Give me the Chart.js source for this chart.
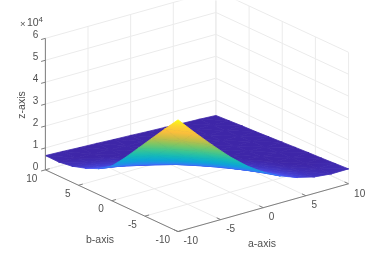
<!DOCTYPE html>
<html>
<head>
<meta charset="utf-8">
<style>
  html, body { margin: 0; padding: 0; background: #fff; }
  canvas { display: block; }
</style>
<script src="https://cdn.jsdelivr.net/npm/chart.js@4"></script>
</head>
<body>
<canvas id="surf" width="374" height="255"></canvas>
<script>
// surface samples, z in units of 10^4, one row per b (b = -10 first), columns a = -10..10
const aGrid = [-10, -8, -6, -4, -2, 0, 2, 4, 6, 8, 10];
const bGrid = [-10, -8, -6, -4, -2, 0, 2, 4, 6, 8, 10];
const zRows = [
  [5.10, 4.29, 3.52, 2.78, 2.14, 1.62, 1.23, 0.94, 0.75, 0.67, 0.68],
  [4.40, 3.62, 2.95, 2.35, 1.84, 1.41, 1.08, 0.85, 0.70, 0.63, 0.64],
  [3.68, 3.00, 2.42, 1.94, 1.53, 1.20, 0.94, 0.76, 0.64, 0.59, 0.60],
  [2.96, 2.42, 1.96, 1.58, 1.27, 1.02, 0.82, 0.69, 0.60, 0.56, 0.57],
  [2.24, 1.88, 1.55, 1.28, 1.05, 0.87, 0.72, 0.62, 0.55, 0.52, 0.53],
  [1.58, 1.40, 1.19, 1.02, 0.86, 0.73, 0.63, 0.56, 0.51, 0.49, 0.49],
  [1.18, 1.06, 0.93, 0.81, 0.71, 0.63, 0.56, 0.51, 0.47, 0.46, 0.45],
  [0.92, 0.83, 0.75, 0.67, 0.61, 0.55, 0.51, 0.47, 0.44, 0.42, 0.41],
  [0.73, 0.68, 0.63, 0.58, 0.54, 0.50, 0.47, 0.44, 0.41, 0.39, 0.38],
  [0.64, 0.60, 0.57, 0.54, 0.51, 0.48, 0.45, 0.42, 0.39, 0.36, 0.34],
  [0.65, 0.62, 0.58, 0.55, 0.51, 0.48, 0.44, 0.41, 0.37, 0.34, 0.30]
];
const aTicks = [-10, -5, 0, 5, 10];
const bTicks = [-10, -5, 0, 5, 10];
const zTicks = [0, 1, 2, 3, 4, 5, 6];

const parula = [
  [62, 38, 168], [72, 82, 244], [46, 130, 242], [12, 165, 215], [20, 185, 185],
  [60, 198, 145], [125, 198, 100], [195, 190, 70], [250, 190, 60], [253, 210, 50], [249, 251, 20]
];
const zLo = 0.60, zHi = 5.10;

// orthographic view of the box, in the units of the (hidden) x and y scales
function proj(a, b, z) {
  return { x: 8.55 * a - 6.65 * b, y: 2.4 * a + 3.1 * b + 22 * z };
}

function colorAt(z) {
  const t = Math.min(1, Math.max(0, (z - zLo) / (zHi - zLo))) * (parula.length - 1);
  const i = Math.min(parula.length - 2, Math.floor(t)), f = t - i;
  const c = parula[i].map((v, k) => Math.round(v + (parula[i + 1][k] - v) * f));
  return `rgb(${c[0]},${c[1]},${c[2]})`;
}

// a triangle is flat, so z runs linearly across it on screen: shade along that direction
function facetPaint(tri) {
  const sorted = tri.slice().sort((m, n) => m[2] - n[2]);
  const lo = sorted[0], hi = sorted[2];
  const flat = colorAt((lo[2] + hi[2]) / 2);
  return function (ctx) {
    const chart = ctx.chart;
    if (!chart.scales.x || !chart.chartArea) return flat;
    const pts = sorted.map(c => {
      const p = proj(c[0], c[1], c[2]);
      return [chart.scales.x.getPixelForValue(p.x), chart.scales.y.getPixelForValue(p.y)];
    });
    if (!pts.flat().every(Number.isFinite)) return flat;
    const d1x = pts[1][0] - pts[0][0], d1y = pts[1][1] - pts[0][1];
    const d2x = pts[2][0] - pts[0][0], d2y = pts[2][1] - pts[0][1];
    const dz1 = sorted[1][2] - lo[2], dz2 = hi[2] - lo[2];
    const det = d1x * d2y - d2x * d1y;
    if (Math.abs(det) < 0.2 || dz2 === 0) return flat;
    const gx = (dz1 * d2y - dz2 * d1y) / det, gy = (dz2 * d1x - dz1 * d2x) / det;
    const len2 = gx * gx + gy * gy;
    const g = chart.ctx.createLinearGradient(pts[0][0], pts[0][1],
      pts[0][0] + gx * dz2 / len2, pts[0][1] + gy * dz2 / len2);
    for (let s = 0; s <= 4; s++) g.addColorStop(s / 4, colorAt(lo[2] + dz2 * s / 4));
    return g;
  };
}

function segment(p, q, color, width, order) {
  return {
    data: [proj(p[0], p[1], p[2]), proj(q[0], q[1], q[2])],
    showLine: true, borderColor: color, borderWidth: width, pointRadius: 0, fill: false, order: order
  };
}

function facet(tri) {
  const paint = facetPaint(tri);
  return {
    data: tri.concat([tri[0]]).map(c => proj(c[0], c[1], c[2])),
    showLine: true, fill: 'shape', tension: 0, pointRadius: 0,
    backgroundColor: paint, borderColor: paint, borderWidth: 0.8, order: 5
  };
}

const datasets = [];
const gridColor = '#ebebeb', axisColor = '#7f7f7f';

// walls and floor
zTicks.forEach(z => {
  datasets.push(segment([-10, 10, z], [10, 10, z], gridColor, 1, 10));
  datasets.push(segment([10, 10, z], [10, -10, z], gridColor, 1, 10));
});
aTicks.forEach(a => {
  datasets.push(segment([a, 10, 0], [a, 10, 6], gridColor, 1, 10));
  datasets.push(segment([a, -10, 0], [a, 10, 0], gridColor, 1, 10));
});
bTicks.forEach(b => {
  datasets.push(segment([10, b, 0], [10, b, 6], gridColor, 1, 10));
  datasets.push(segment([-10, b, 0], [10, b, 0], gridColor, 1, 10));
});

// surface, nearest facet first because lower dataset index ends up on top
for (let j = 0; j < bGrid.length - 1; j++) {
  for (let i = 0; i < aGrid.length - 1; i++) {
    const c00 = [aGrid[i], bGrid[j], zRows[j][i]];
    const c10 = [aGrid[i + 1], bGrid[j], zRows[j][i + 1]];
    const c01 = [aGrid[i], bGrid[j + 1], zRows[j + 1][i]];
    const c11 = [aGrid[i + 1], bGrid[j + 1], zRows[j + 1][i + 1]];
    datasets.push(facet([c00, c10, c01]));
    datasets.push(facet([c10, c11, c01]));
  }
}

// axes and tick marks
datasets.push(segment([-10, 10, 0], [-10, 10, 6], axisColor, 1, 1));
datasets.push(segment([-10, -10, 0], [-10, 10, 0], axisColor, 1, 1));
datasets.push(segment([-10, -10, 0], [10, -10, 0], axisColor, 1, 1));
zTicks.forEach(z => datasets.push(segment([-10.5, 10, z], [-10, 10, z], axisColor, 1, 1)));
bTicks.forEach(b => datasets.push(segment([-10, b, 0], [-9.5, b, 0], axisColor, 1, 1)));
aTicks.forEach(a => datasets.push(segment([a, -10, 0], [a, -9.4, 0], axisColor, 1, 1)));

const axisText = {
  id: 'axisText',
  afterDraw(chart) {
    const { ctx, scales } = chart;
    const at = (a, b, z) => {
      const p = proj(a, b, z);
      return [scales.x.getPixelForValue(p.x), scales.y.getPixelForValue(p.y)];
    };
    const put = (txt, x, y, align, size) => {
      ctx.font = `${size || 10}px "Liberation Sans", Arial, sans-serif`;
      ctx.textAlign = align;
      ctx.textBaseline = 'middle';
      ctx.fillText(txt, x, y);
    };
    ctx.save();
    ctx.fillStyle = '#4f4f4f';
    zTicks.forEach(z => {
      const p = at(-10, 10, z);
      put(String(z), p[0] - 7, p[1] - 3, 'right');
    });
    bTicks.forEach(b => {
      const p = at(-10, b, 0);
      put(String(b), p[0] - 8, p[1] + 9, 'right');
    });
    aTicks.forEach(a => {
      const p = at(a, -10, 0);
      put(String(a), p[0] + 5.5, p[1] + 10, 'left');
    });
    put('×', 20, 24, 'left', 9.5);
    put('10', 27, 23.5, 'left', 10.5);
    put('4', 38.5, 19.5, 'left', 8);
    put('b-axis', 100, 240, 'center', 10.5);
    put('a-axis', 262, 244, 'center', 10.5);
    ctx.translate(22, 105);
    ctx.rotate(-Math.PI / 2);
    put('z-axis', 0, 0, 'center', 10.5);
    ctx.restore();
  }
};

const chart = new Chart(document.getElementById('surf').getContext('2d'), {
  type: 'scatter',
  data: { datasets },
  options: {
    responsive: false,
    animation: false,
    events: [],
    layout: { padding: 0 },
    scales: {
      x: { type: 'linear', display: false, min: -197, max: 177 },
      y: { type: 'linear', display: false, min: -78, max: 177 }
    },
    plugins: { legend: { display: false }, tooltip: { enabled: false } }
  },
  plugins: [axisText]
});
chart.update();
</script>
</body>
</html>
